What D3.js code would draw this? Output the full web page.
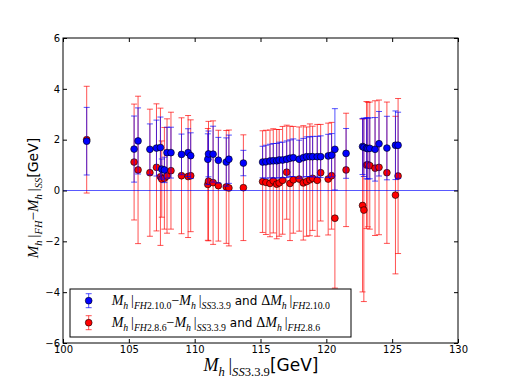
<!DOCTYPE html>
<html>
<head>
<meta charset="utf-8">
<script src="https://cdn.jsdelivr.net/npm/d3@7"></script>
<style>body{margin:0;background:#fff}</style>
</head>
<body>
<svg id="chart" width="509" height="382"></svg>
<script>
// Higgs mass from SoftSusy 3.3.9 (x) and FeynHiggs differences (y)
const mh = [101.8, 105.4, 105.7, 106.6, 107.1, 107.4, 107.5, 107.7, 107.9, 108.2,
  109.0, 109.5, 109.7, 111.0, 111.05, 111.4, 111.8, 112.4, 112.6, 113.7,
  115.16, 115.41, 115.72, 115.97, 116.23, 116.42, 116.68, 116.99, 117.24, 117.49,
  117.94, 118.25, 118.5, 118.75, 118.96, 119.31, 119.57, 120.14, 120.4, 120.65,
  121.5, 122.75, 122.85, 123.05, 123.15, 123.3, 123.7, 124.0, 124.6, 125.25, 125.45];
// FH 2.10.0 - SS 3.3.9 (blue)
const dFH2100 = [1.94, 1.63, 1.95, 1.62, 1.67, 1.69, 0.84, 0.81, 1.49, 1.49,
  1.42, 1.49, 1.37, 1.23, 1.44, 1.43, 1.19, 1.12, 1.23, 1.08,
  1.12, 1.13, 1.16, 1.17, 1.17, 1.20, 1.20, 1.23, 1.27, 1.29,
  1.23, 1.29, 1.33, 1.33, 1.33, 1.33, 1.33, 1.36, 1.39, 1.62,
  1.46, 1.73, 1.70, 1.66, 1.65, 1.66, 1.62, 1.84, 1.67, 1.78, 1.78];
const errFH2100 = [1.33, 1.30, 1.30, 1.00, 1.10, 1.20, 0.40, 0.50, 1.00, 1.00,
  0.80, 0.94, 0.90, 1.00, 0.90, 1.10, 0.90, 0.95, 0.95, 0.50,
  0.62, 0.65, 0.66, 0.68, 0.68, 0.70, 0.70, 0.72, 0.72, 0.74,
  0.75, 0.76, 0.78, 0.78, 0.80, 0.80, 0.82, 0.85, 0.85, 1.60,
  0.98, 1.10, 1.15, 1.20, 1.20, 1.20, 1.25, 1.27, 1.25, 1.35, 1.30];
// FH 2.8.6 - SS 3.3.9 (red)
const dFH286 = [2.00, 1.12, 0.81, 0.70, 0.91, 0.54, 0.45, 0.48, 0.57, 0.78,
  0.58, 0.55, 0.58, 0.24, 0.37, 0.31, 0.19, 0.14, 0.10, 0.11,
  0.35, 0.32, 0.28, 0.38, 0.25, 0.30, 0.40, 0.72, 0.28, 0.42,
  0.45, 0.30, 0.35, 0.42, 0.48, 0.40, 0.70, 0.45, 0.58, -1.09,
  0.81, -0.59, -0.77, 1.00, 1.02, 0.98, 0.88, 0.91, 0.70, -0.18, 0.57];
const errFH286 = [2.10, 2.28, 2.90, 2.50, 2.50, 2.70, 1.50, 2.00, 2.25, 2.30,
  2.28, 2.40, 2.20, 2.20, 2.35, 2.43, 2.18, 2.22, 2.28, 2.08,
  2.00, 2.05, 2.10, 2.05, 2.15, 2.10, 2.12, 1.85, 2.25, 2.10,
  2.05, 2.25, 2.15, 2.20, 2.05, 2.20, 1.90, 2.20, 2.10, 2.75,
  2.23, 3.40, 3.60, 2.50, 2.45, 2.50, 2.65, 2.65, 2.78, 3.10, 3.05];
const xTicks = [100, 105, 110, 115, 120, 125, 130];
const yTicks = [-6, -4, -2, 0, 2, 4, 6];

const svg = d3.select("#chart");
const x = d3.scaleLinear().domain([100, 130]).range([63, 458]);
const y = d3.scaleLinear().domain([-6, 6]).range([343, 38]);

const rows = mh.map((m, i) => ({m, b: dFH2100[i], be: errFH2100[i], r: dFH286[i], re: errFH286[i]}));

// error bars
function errBars(key, ekey, color) {
  const g = svg.append("g").attr("stroke", color).attr("stroke-opacity", 0.68).attr("stroke-width", 1);
  const s = g.selectAll("g").data(rows).join("g");
  s.append("line").attr("x1", d => x(d.m)).attr("x2", d => x(d.m))
    .attr("y1", d => y(d[key] - d[ekey])).attr("y2", d => y(d[key] + d[ekey]));
  s.append("line").attr("x1", d => x(d.m) - 3).attr("x2", d => x(d.m) + 3)
    .attr("y1", d => y(d[key] - d[ekey])).attr("y2", d => y(d[key] - d[ekey]));
  s.append("line").attr("x1", d => x(d.m) - 3).attr("x2", d => x(d.m) + 3)
    .attr("y1", d => y(d[key] + d[ekey])).attr("y2", d => y(d[key] + d[ekey]));
}
function dots(key, color) {
  svg.append("g").selectAll("circle").data(rows).join("circle")
    .attr("cx", d => x(d.m)).attr("cy", d => y(d[key])).attr("r", 3.4)
    .attr("fill", color).attr("stroke", "#000").attr("stroke-width", 0.6);
}

errBars("r", "re", "#ff0000");
dots("r", "#ff0000");
errBars("b", "be", "#0000ff");
svg.append("line").attr("x1", x(100)).attr("x2", x(130)).attr("y1", y(0)).attr("y2", y(0))
  .attr("stroke", "#0000ff").attr("stroke-opacity", 0.65).attr("stroke-width", 1);
dots("b", "#0000ff");

// axes, ticks pointing inward
function styleAxis(g) {
  g.select(".domain").remove();
  g.selectAll("line").attr("stroke", "#000");
  g.selectAll("text").attr("font-family", "DejaVu Sans").attr("font-size", 10).attr("fill", "#000");
}
svg.append("g").attr("transform", "translate(0,343)")
  .call(d3.axisBottom(x).tickValues(xTicks).tickSize(-4).tickPadding(3)).call(styleAxis);
svg.append("g").attr("transform", "translate(0,38)")
  .call(d3.axisTop(x).tickValues(xTicks).tickSize(-4).tickFormat("")).call(styleAxis);
svg.append("g").attr("transform", "translate(63,0)")
  .call(d3.axisLeft(y).tickValues(yTicks).tickSize(-4).tickPadding(3)).call(styleAxis);
svg.append("g").attr("transform", "translate(458,0)")
  .call(d3.axisRight(y).tickValues(yTicks).tickSize(-4).tickFormat("")).call(styleAxis);
svg.append("rect").attr("x", 63).attr("y", 38).attr("width", 395).attr("height", 305)
  .attr("fill", "none").attr("stroke", "#000").attr("stroke-width", 1);

// math-like text made of tspans
function mathText(t, parts, fs, sfSize) {
  let low = false;
  parts.forEach(([str, k]) => {
    const sub = k.startsWith("sub");
    const ts = t.append("tspan").text(str);
    if (sub && !low) { ts.attr("dy", 0.28 * fs); low = true; }
    else if (!sub && low) { ts.attr("dy", -0.28 * fs); low = false; }
    ts.attr("font-size", sub ? fs * 0.7 : (k === "sf" ? (sfSize || fs) : fs));
    if (k === "sf") ts.attr("font-family", "DejaVu Sans");
    else ts.attr("font-family", "Liberation Serif").attr("font-style", k.endsWith("it") ? "italic" : "normal");
  });
}
const mhPart = [["M", "it"], ["h", "subit"], ["\u2009|", "rm"]];

const xl = svg.append("text").attr("x", 261).attr("y", 371).attr("text-anchor", "middle");
mathText(xl, [...mhPart, ["SS", "subit"], ["3.3.9", "subrm"], ["[GeV]", "sf"]], 18, 17);

const yl = svg.append("text").attr("transform", "translate(38,198) rotate(-90)").attr("text-anchor", "middle");
mathText(yl, [...mhPart, ["FH", "subit"], ["\u2212", "rm"], ...mhPart, ["SS", "subit"], ["[GeV]", "sf"]], 15, 14);

// legend
const leg = svg.append("g");
leg.append("rect").attr("x", 70).attr("y", 289).attr("width", 281).attr("height", 48)
  .attr("fill", "#fff").attr("stroke", "#000").attr("stroke-width", 1);
const legItems = [
  {color: "#0000ff", ver: "2.10.0"},
  {color: "#ff0000", ver: "2.8.6"}
];
legItems.forEach((it, i) => {
  const cy = 300.7 + i * 22;
  const g = leg.append("g").attr("stroke", it.color).attr("stroke-opacity", 0.68);
  g.append("line").attr("x1", 88.7).attr("x2", 88.7).attr("y1", cy - 7).attr("y2", cy + 7);
  g.append("line").attr("x1", 85.7).attr("x2", 91.7).attr("y1", cy - 7).attr("y2", cy - 7);
  g.append("line").attr("x1", 85.7).attr("x2", 91.7).attr("y1", cy + 7).attr("y2", cy + 7);
  leg.append("circle").attr("cx", 88.7).attr("cy", cy).attr("r", 3.4)
    .attr("fill", it.color).attr("stroke", "#000").attr("stroke-width", 0.6);
  const t = leg.append("text").attr("x", 111.7).attr("y", cy + 4);
  mathText(t, [...mhPart, ["FH", "subit"], [it.ver, "subrm"], ["\u2212", "rm"], ...mhPart,
    ["SS", "subit"], ["3.3.9", "subrm"], [" and ", "sf"], ["\u0394", "rm"], ...mhPart,
    ["FH", "subit"], [it.ver, "subrm"]], 14, 12);
});
</script>
</body>
</html>
